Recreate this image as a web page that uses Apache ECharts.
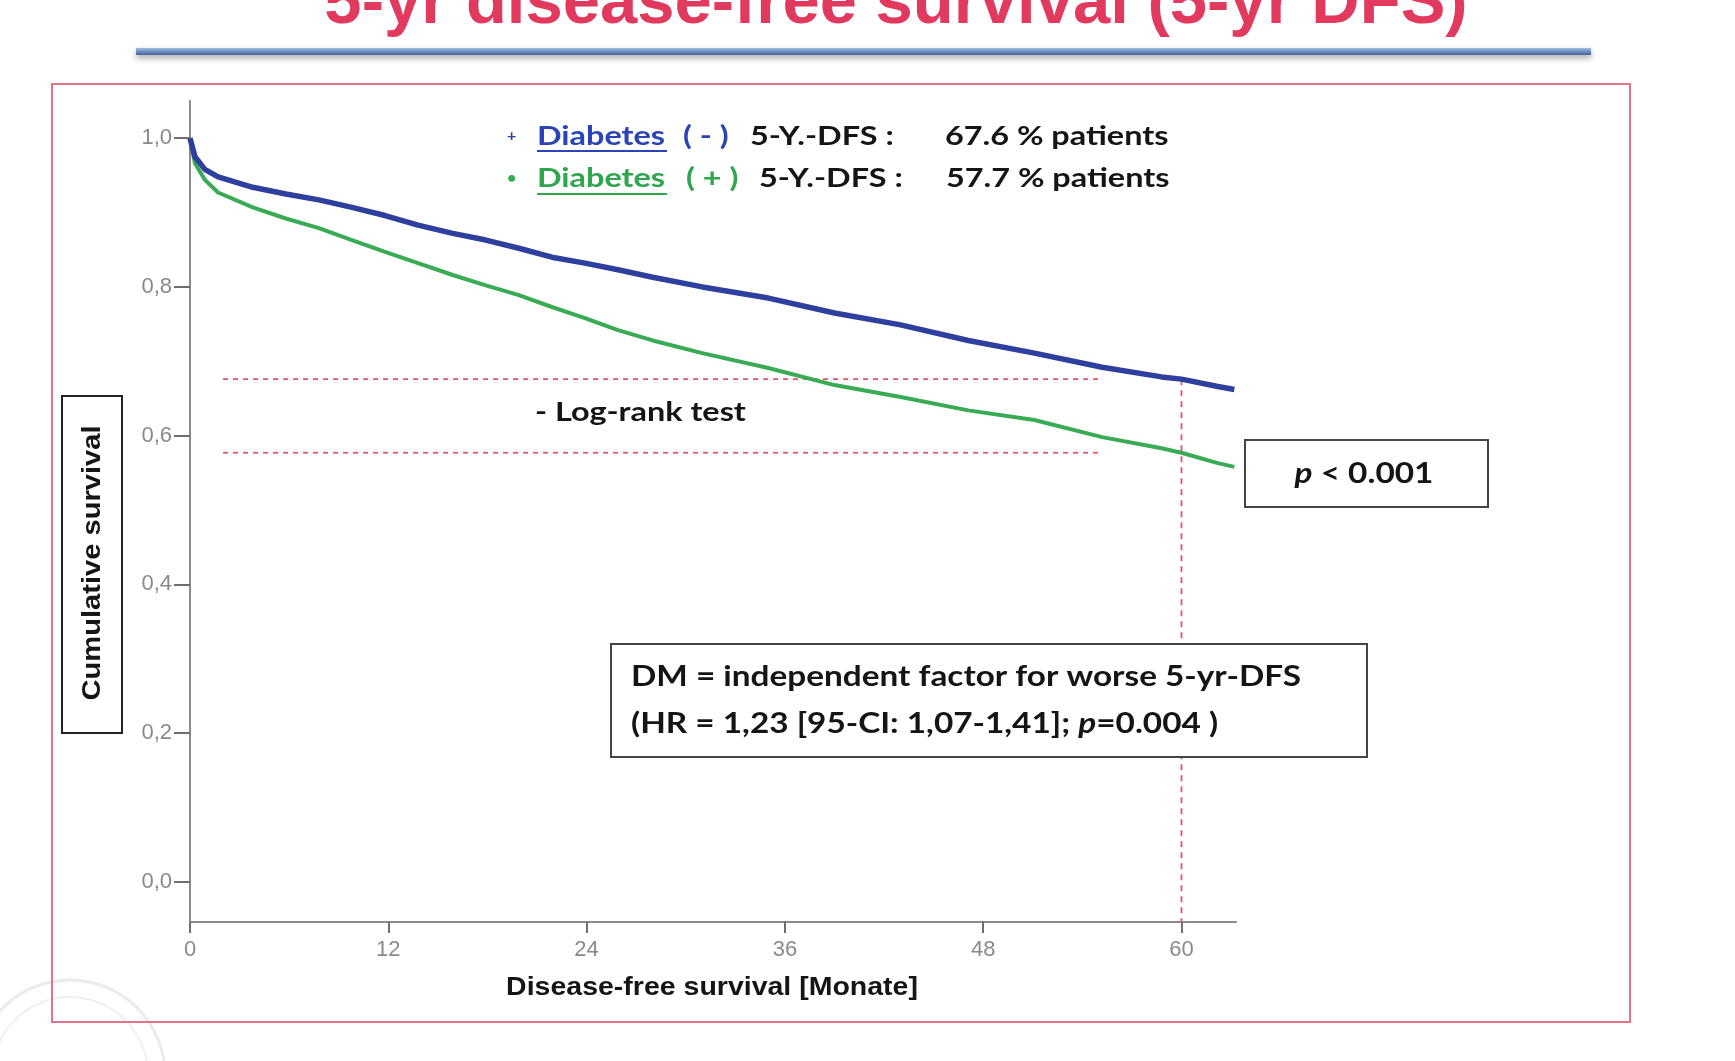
<!DOCTYPE html>
<html>
<head>
<meta charset="utf-8">
<script src="https://cdn.jsdelivr.net/npm/echarts@6/dist/echarts.min.js"></script>
<style>
html,body{margin:0;padding:0;background:#fff;}
#c{width:1735px;height:1061px;}
</style>
</head>
<body>
<div id="c"></div>
<script>
// ---- data (months, cumulative survival) ----
const months = [0, 0.3, 0.9, 1.7, 3.8, 5.8, 7.8, 9.8, 11.8, 13.8, 15.9, 17.9, 19.9, 21.9, 23.9, 25.9, 28, 31, 35, 39, 43, 47.1, 51.1, 55.2, 58.8, 60, 62.2, 63.2];
const survivalNoDM = [1.0, 0.975, 0.958, 0.948, 0.934, 0.925, 0.917, 0.907, 0.896, 0.883, 0.872, 0.863, 0.852, 0.840, 0.832, 0.823, 0.813, 0.800, 0.785, 0.765, 0.749, 0.728, 0.711, 0.692, 0.679, 0.676, 0.666, 0.662];
const survivalDM   = [1.0, 0.966, 0.944, 0.927, 0.907, 0.892, 0.879, 0.863, 0.847, 0.832, 0.816, 0.802, 0.789, 0.773, 0.758, 0.742, 0.728, 0.711, 0.691, 0.668, 0.652, 0.634, 0.621, 0.598, 0.583, 0.577, 0.563, 0.558];
const fiveYearRates = [0.676, 0.577];      // 5-Y.-DFS
const refLineStart = 2.0;                  // months where dashed guide lines start
const refLineEnd = 55.0;                   // months where dashed guide lines end
const fiveYearMark = 60;                   // month of vertical guide
const xTicks = [0, 12, 24, 36, 48, 60];
const yTicks = [0, 0.2, 0.4, 0.6, 0.8, 1.0];
const seriesNames = ['Diabetes ( - )', 'Diabetes ( + )'];
const legendRates = ['67.6 % patients', '57.7 % patients'];

const X_MIN = 0, X_MAX = 63.3, Y_MIN = -0.054, Y_MAX = 1.05;

const BLUE = '#2f3f9e', GREEN = '#3aab55', RED = '#e0566e';
const TXT = 'Lato, "Noto Sans", sans-serif';
const SX = 1.2;

const zip = (xs, ys) => xs.map((x, i) => [x, ys[i]]);

const chart = echarts.init(document.getElementById('c'), null, {renderer: 'canvas'});

function t(x, y, text, fill, size, extra) {
  return Object.assign({type: 'text', x: x, y: y, z: 10, scaleX: SX,
    style: {text: text, fill: fill, font: 'bold ' + size + 'px ' + TXT, verticalAlign: 'middle'}}, extra || {});
}

const graphic = [
  // title (cut off at top of slide)
  {type: 'text', x: 896, y: -29, z: 10,
   style: {text: '5-yr disease-free survival (5-yr DFS)', fill: '#e23a5e', font: 'bold 67px "Liberation Sans", sans-serif',
           align: 'center', verticalAlign: 'top'}},
  // blue separator bar
  {type: 'rect', shape: {x: 136, y: 48, width: 1455, height: 7}, z: 5,
   style: {fill: new echarts.graphic.LinearGradient(0, 0, 0, 1, [{offset: 0, color: '#9dbde3'}, {offset: 1, color: '#43659b'}]),
           shadowBlur: 6, shadowColor: 'rgba(0,0,0,0.35)', shadowOffsetY: 3}},
  // red frame
  {type: 'rect', shape: {x: 52, y: 84, width: 1578, height: 938}, z: 1,
   style: {fill: 'none', stroke: '#e27488', lineWidth: 2}},
  // faint seal bottom-left
  {type: 'circle', shape: {cx: 70, cy: 1075, r: 95}, z: 0, silent: true,
   style: {fill: 'none', stroke: '#ebebeb', lineWidth: 3}},
  {type: 'circle', shape: {cx: 70, cy: 1075, r: 78}, z: 0, silent: true,
   style: {fill: 'none', stroke: '#f0f0f0', lineWidth: 2}},

  // legend lines
  {type: 'text', x: 507, y: 136, z: 10, style: {text: '+', fill: BLUE, font: 'bold 16px ' + TXT, verticalAlign: 'middle'}},
  t(537, 136, 'Diabetes', '#2a44b8', 27),
  {type: 'line', shape: {x1: 537, y1: 151, x2: 667, y2: 151}, z: 10, style: {stroke: '#2a44b8', lineWidth: 2}},
  t(683, 136, '( - )', '#2a44b8', 27),
  t(750, 136, '5-Y.-DFS :', '#151515', 27),
  t(945, 136, legendRates[0], '#151515', 27),

  {type: 'text', x: 507, y: 178, z: 10, style: {text: '•', fill: GREEN, font: 'bold 16px ' + TXT, verticalAlign: 'middle'}},
  t(537, 178, 'Diabetes', '#2fa54e', 27),
  {type: 'line', shape: {x1: 537, y1: 194, x2: 667, y2: 194}, z: 10, style: {stroke: '#2fa54e', lineWidth: 2}},
  t(686, 178, '( + )', '#2fa54e', 27),
  t(759, 178, '5-Y.-DFS :', '#151515', 27),
  t(946, 178, legendRates[1], '#151515', 27),

  // log-rank
  t(535, 412, '- Log-rank test', '#151515', 27),

  // p box
  {type: 'rect', shape: {x: 1245, y: 440, width: 243, height: 67}, z: 10,
   style: {fill: '#fff', stroke: '#444', lineWidth: 2}},
  {type: 'text', x: 1364, y: 474, z: 11, scaleX: 1.15,
   style: {text: '{i|p} < 0.001', fill: '#151515', font: 'bold 29px ' + TXT, align: 'center', verticalAlign: 'middle',
           rich: {i: {fontStyle: 'italic', fontWeight: 'bold', fontSize: 29, fontFamily: 'Lato', fill: '#151515'}}}},

  // DM box
  {type: 'rect', shape: {x: 611, y: 644, width: 756, height: 113}, z: 10,
   style: {fill: '#fff', stroke: '#444', lineWidth: 2}},
  {type: 'text', x: 631, y: 677, z: 11, scaleX: 1.19,
   style: {text: 'DM = independent factor for worse 5-yr-DFS', fill: '#151515', font: 'bold 28px ' + TXT, verticalAlign: 'middle'}},
  {type: 'text', x: 631, y: 724, z: 11, scaleX: 1.19,
   style: {text: '(HR = 1,23 [95-CI: 1,07-1,41]; {i|p}=0.004 )', fill: '#151515', font: 'bold 28px ' + TXT, verticalAlign: 'middle',
           rich: {i: {fontStyle: 'italic', fontWeight: 'bold', fontSize: 28, fontFamily: 'Lato', fill: '#151515'}}}},

  // y-axis name box
  {type: 'rect', shape: {x: 62, y: 396, width: 60, height: 337}, z: 10,
   style: {fill: '#fff', stroke: '#222', lineWidth: 2}},
  {type: 'text', x: 93, y: 563, rotation: Math.PI / 2, scaleX: 1.12, z: 11,
   style: {text: 'Cumulative survival', fill: '#151515', font: 'bold 26px "Liberation Sans", sans-serif', align: 'center', verticalAlign: 'middle'}},

  // x-axis name
  {type: 'text', x: 712, y: 988, z: 10, scaleX: 1.14,
   style: {text: 'Disease-free survival [Monate]', fill: '#151515', font: 'bold 25px "Liberation Sans Narrow", "Liberation Sans", sans-serif', align: 'center', verticalAlign: 'middle'}}
];

const option = {
  backgroundColor: '#ffffff',
  animation: false,
  grid: {left: 190, top: 101, width: 1046, height: 821, containLabel: false, outerBoundsMode: 'none', show: false},
  xAxis: {
    type: 'value', min: X_MIN, max: X_MAX,
    splitLine: {show: false},
    axisLine: {onZero: false, lineStyle: {color: '#8a8a8a', width: 2}},
    axisTick: {show: true, length: 11, customValues: xTicks, lineStyle: {color: '#6f6f6f', width: 2}},
    axisLabel: {customValues: xTicks, margin: 17, color: '#8a8a8a', fontSize: 22, fontFamily: '"Liberation Sans Narrow", "Liberation Sans", sans-serif'}
  },
  yAxis: {
    type: 'value', min: Y_MIN, max: Y_MAX,
    splitLine: {show: false},
    axisLine: {show: true, onZero: false, lineStyle: {color: '#8a8a8a', width: 2}},
    axisTick: {show: true, length: 16, customValues: yTicks, lineStyle: {color: '#6f6f6f', width: 2}},
    axisLabel: {customValues: yTicks, margin: 18, color: '#8a8a8a', fontSize: 22, fontFamily: '"Liberation Sans", sans-serif',
                formatter: v => v.toFixed(1).replace('.', ',')}
  },
  graphic: graphic,
  series: [
    {name: 'ref-noDM', type: 'line', z: 1, silent: true, showSymbol: false,
     data: [[refLineStart, fiveYearRates[0]], [refLineEnd, fiveYearRates[0]]],
     lineStyle: {color: RED, width: 1.8, type: [5, 5]}},
    {name: 'ref-DM', type: 'line', z: 1, silent: true, showSymbol: false,
     data: [[refLineStart, fiveYearRates[1]], [refLineEnd, fiveYearRates[1]]],
     lineStyle: {color: RED, width: 1.8, type: [5, 5]}},
    {name: 'ref-60', type: 'line', z: 1, silent: true, showSymbol: false,
     data: [[fiveYearMark, fiveYearRates[0]], [fiveYearMark, Y_MIN]],
     lineStyle: {color: RED, width: 1.8, type: [6, 5]}},
    {name: seriesNames[1], type: 'line', z: 3, showSymbol: false, smooth: false,
     data: zip(months, survivalDM), lineStyle: {color: GREEN, width: 4}},
    {name: seriesNames[0], type: 'line', z: 4, showSymbol: false, smooth: false,
     data: zip(months, survivalNoDM), lineStyle: {color: BLUE, width: 5.5}}
  ]
};
chart.setOption(option);
</script>
</body>
</html>
